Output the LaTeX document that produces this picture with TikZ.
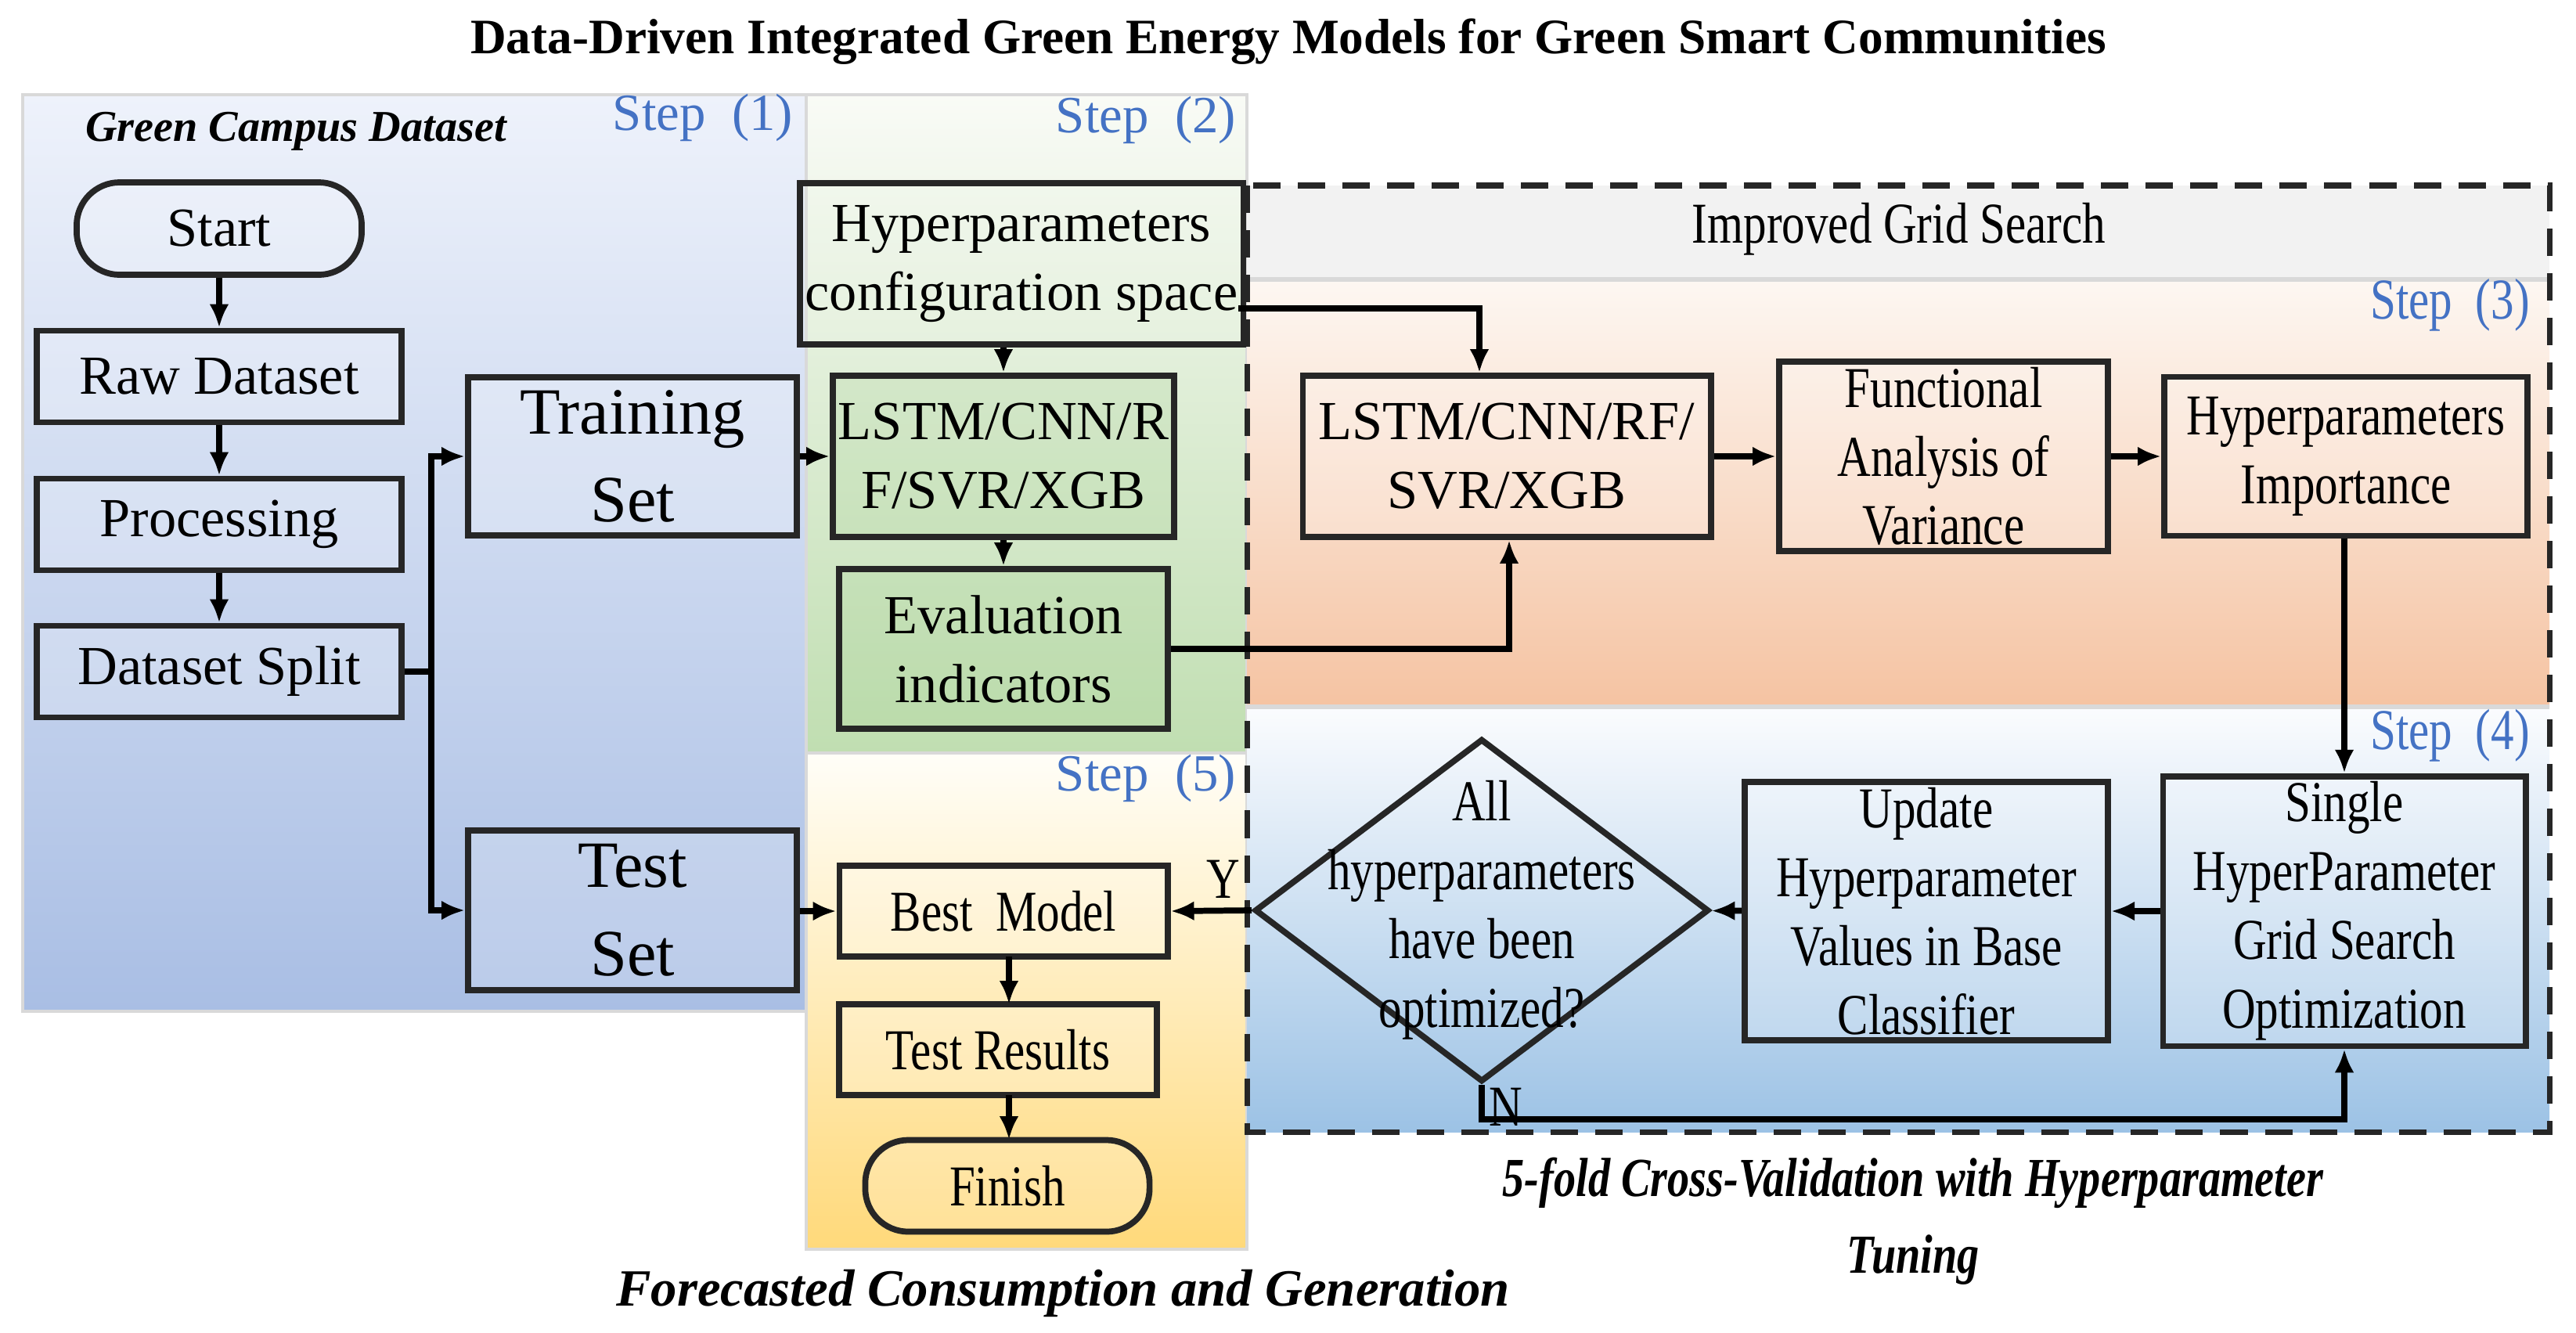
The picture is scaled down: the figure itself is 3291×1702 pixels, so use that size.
\documentclass[tikz,border=0pt]{standalone}
\usepackage{fontspec}
\setmainfont{Liberation Serif}
\newfontfamily\cond[FakeStretch=0.8]{Liberation Serif}
\usetikzlibrary{shapes.geometric,arrows.meta}
\definecolor{stepblue}{HTML}{4472C4}
\definecolor{bluetop}{HTML}{EEF2FB}
\definecolor{bluebot}{HTML}{A9BEE4}
\definecolor{greentop}{HTML}{F9FBF6}
\definecolor{greenbot}{HTML}{C0DEB1}
\definecolor{yeltop}{HTML}{FFFEF8}
\definecolor{yelbot}{HTML}{FFD97A}
\definecolor{bandgray}{HTML}{F2F2F2}
\definecolor{ortop}{HTML}{FDF7F2}
\definecolor{orbot}{HTML}{F5C3A2}
\definecolor{sbtop}{HTML}{FBFCFE}
\definecolor{sbbot}{HTML}{9CC2E5}
\definecolor{hyperfill}{HTML}{F0F7EC}
\definecolor{greenfill}{HTML}{A0CD8C}
\tikzset{
  box/.style={draw=black!85,line width=2.2pt,rectangle,align=center,font=\fontsize{20}{25}\selectfont,inner sep=2pt,fill=white,fill opacity=0.2,text opacity=1},
  rbox/.style={box,rounded corners=0.55cm},
  cbox/.style={box,font=\cond\fontsize{21}{25}\selectfont},
  conn/.style={line width=2.2pt,-{Latex[length=0.3cm,width=0.25cm]}},
  steplbl/.style={text=stepblue,font=\fontsize{19}{22}\selectfont},
  panel/.style={draw=black!15,line width=1pt}
}
\begin{document}
\begin{tikzpicture}[x=0.01cm,y=-0.01cm]
\useasboundingbox (0,0) rectangle (3291,1702);
% panels
\shade[panel,top color=bluetop,bottom color=bluebot] (29,121) rectangle (1030,1292);
\shade[panel,top color=greentop,bottom color=greenbot] (1030,121) rectangle (1593,962);
\shade[panel,top color=yeltop,bottom color=yelbot] (1030,962) rectangle (1593,1596);
\fill[bandgray] (1593,237) rectangle (3257,357);
\shade[top color=ortop,bottom color=orbot] (1593,357) rectangle (3257,903);
\shade[top color=sbtop,bottom color=sbbot] (1593,903) rectangle (3257,1446);
\draw[black!15,line width=1.5pt] (1593,357) -- (3257,357) (1593,903) -- (3257,903);
\draw[black!85,line width=2pt,dash pattern=on 0.35cm off 0.22cm] (1593,237) rectangle (3257,1446);
% texts
\node (title) at (1646,53) {\bfseries\fontsize{18}{21}\selectfont Data-Driven Integrated Green Energy Models for Green Smart Communities};
\node (gcd) at (378,168) {\bfseries\itshape\fontsize{16}{20}\selectfont Green Campus Dataset};
\node[steplbl] (s1) at (898,150) {Step\ \ (1)};
\node[steplbl] (s2) at (1464,153) {Step\ \ (2)};
\node[steplbl] (s5) at (1464,994) {Step\ \ (5)};
\node[steplbl,font=\cond\fontsize{21}{24}\selectfont] (s3) at (3130,390) {Step\ \ (3)};
\node[steplbl,font=\cond\fontsize{21}{24}\selectfont] (s4) at (3130,940) {Step\ \ (4)};
\node[font=\cond\fontsize{21}{24}\selectfont] (igs) at (2426,293) {Improved Grid Search};
\node[align=center,font=\cond\bfseries\itshape\fontsize{20}{28}\selectfont] (cv) at (2444,1560) {5-fold Cross-Validation with Hyperparameter\\Tuning};
\node[font=\bfseries\itshape\fontsize{19}{22}\selectfont] (fc) at (1358,1652) {Forecasted Consumption and Generation};
% step 1
\node[rbox,minimum width=3.64cm,minimum height=1.18cm] (start) at (280,292) {Start};
\node[box,minimum width=4.65cm,minimum height=1.17cm] (raw) at (280,481) {Raw Dataset};
\node[box,minimum width=4.65cm,minimum height=1.17cm] (proc) at (280,670) {Processing};
\node[box,minimum width=4.65cm,minimum height=1.17cm] (split) at (280,858) {Dataset Split};
\node[box,font=\fontsize{24}{32}\selectfont,minimum width=4.2cm,minimum height=2.02cm] (train) at (808,583) {Training\\Set};
\node[box,font=\fontsize{24}{32}\selectfont,minimum width=4.2cm,minimum height=2.04cm] (test) at (808,1163) {Test\\Set};
% step 2
\node[box,minimum width=5.54cm,minimum height=2.06cm,fill=hyperfill] (hyper) at (1305,337) {Hyperparameters\\configuration space};
\node[box,minimum width=4.2cm,minimum height=2.06cm,fill=greenfill] (lstmA) at (1282,583) {LSTM/CNN/R\\F/SVR/XGB};
\node[box,minimum width=4.2cm,minimum height=2.04cm,fill=greenfill] (eval) at (1282,829) {Evaluation\\indicators};
% step 3
\node[box,minimum width=5.21cm,minimum height=2.06cm] (lstmB) at (1925,583) {LSTM/CNN/RF/\\SVR/XGB};
\node[cbox,minimum width=4.2cm,minimum height=2.03cm] (fa) at (2483,583) {Functional\\Analysis of\\Variance};
\node[cbox,minimum width=4.64cm,minimum height=2.03cm] (hi) at (2997,583) {Hyperparameters\\Importance};
% step 4
\node[cbox,minimum width=4.63cm,minimum height=2.98cm] (single) at (2995,1164) {Single\\HyperParameter\\Grid Search\\Optimization};
\node[cbox,minimum width=4.64cm,minimum height=2.94cm] (update) at (2461,1164) {Update\\Hyperparameter\\Values in Base\\Classifier};
\node[diamond,draw=black!85,line width=2.2pt,minimum width=5.8cm,minimum height=4.38cm,inner sep=0pt] (dia) at (1893,1163) {};
\node[align=center,font=\cond\fontsize{21}{25}\selectfont] (diat) at (1893,1163) {All\\hyperparameters\\have been\\optimized?};
% step 5
\node[cbox,minimum width=4.19cm,minimum height=1.16cm] (best) at (1282,1164) {Best\ \ Model};
\node[cbox,minimum width=4.06cm,minimum height=1.16cm] (res) at (1275,1341) {Test Results};
\node[rbox,font=\cond\fontsize{21}{25}\selectfont,minimum width=3.63cm,minimum height=1.17cm] (fin) at (1287,1515) {Finish};
% connectors
\coordinate (br) at (551,858);
\draw[conn] (start) -- (raw);
\draw[conn] (raw) -- (proc);
\draw[conn] (proc) -- (split);
\draw[line width=2.2pt] (split.east) -- (br);
\draw[conn] (br) |- (train.west);
\draw[conn] (br) |- (test.west);
\draw[conn] (train) -- (lstmA);
\draw[conn] (hyper.south -| lstmA) -- (lstmA);
\draw[conn] (lstmA) -- (eval);
\coordinate (hx) at (1582,394);
\draw[conn] (hx) -| ([xshift=-0.35cm]lstmB.north);
\draw[conn] (eval.east) -| ([xshift=0.03cm]lstmB.south);
\draw[conn] (lstmB) -- (fa);
\draw[conn] (fa) -- (hi);
\draw[conn] (hi.south -| single.north) -- (single.north);
\draw[conn] (single) -- (update);
\draw[conn] (update) -- (dia);
\draw[conn] (dia.west) -- node[pos=0.35,above,font=\cond\fontsize{21}{25}\selectfont] (ylbl) {Y} (best.east);
\coordinate (nb) at (1893,1430);
\draw[conn] (dia.south) -- (nb) -| (single.south);
\node[anchor=north west,font=\cond\fontsize{21}{25}\selectfont,inner sep=1pt] (nlbl) at (1898,1386) {N};
\draw[conn] (test.east |- best.west) -- (best.west);
\coordinate (bx) at (1289,1222);
\coordinate (rx) at (1289,1283);
\coordinate (rx2) at (1289,1399);
\coordinate (fx) at (1289,1456);
\draw[conn] (bx) -- (rx);
\draw[conn] (rx2) -- (fx);
\end{tikzpicture}
\end{document}
